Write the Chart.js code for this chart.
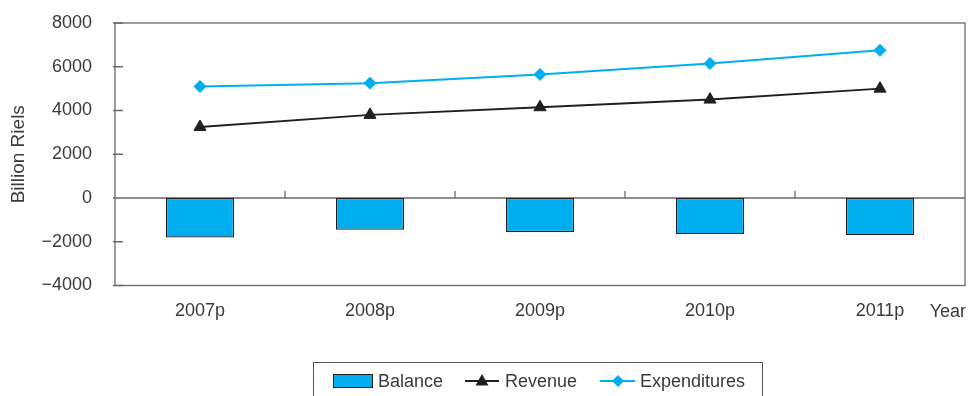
<!DOCTYPE html>
<html>
<head>
<meta charset="utf-8">
<script src="https://cdn.jsdelivr.net/npm/chart.js@4/dist/chart.umd.min.js"></script>
<style>
  html, body { margin: 0; padding: 0; background: #fff; }
  #wrap { width: 968px; height: 396px; position: relative; }
  canvas { display: block; }
</style>
</head>
<body>
<div id="wrap"><canvas id="c" width="968" height="396"></canvas></div>
<script>
// Budget outlook, billion riels
const years = ['2007p', '2008p', '2009p', '2010p', '2011p'];
const balance = [-1800, -1450, -1550, -1650, -1700];
const revenue = [3250, 3800, 4150, 4500, 5000];
const expenditures = [5100, 5250, 5650, 6150, 6750];
const yTicks = [8000, 6000, 4000, 2000, 0, -2000, -4000];

const CYAN = '#00aeef';
const DARK = '#231f20';
const FRAME = '#6a6a6a';
const TEXT = '#3a3a3a';
const SANS = '"Liberation Sans", Arial, sans-serif';

const fmt = v => (v < 0 ? '\u2212' + Math.abs(v) : String(v));

// frame, zero line, inward ticks, "Year" label and boxed legend
const decor = {
  id: 'decor',
  beforeDatasetsDraw(chart) {
    const { ctx, chartArea: a, scales: { x, y } } = chart;
    ctx.save();
    ctx.strokeStyle = FRAME;
    ctx.lineWidth = 1.3;
    ctx.strokeRect(a.left, a.top, a.right - a.left, a.bottom - a.top);
    const y0 = y.getPixelForValue(0);
    ctx.beginPath();
    ctx.moveTo(a.left, y0);
    ctx.lineTo(a.right, y0);
    yTicks.forEach(v => {
      const py = y.getPixelForValue(v);
      ctx.moveTo(a.left - 2, py);
      ctx.lineTo(a.left + 8, py);
    });
    for (let i = 0; i < years.length - 1; i++) {
      const px = (x.getPixelForValue(i) + x.getPixelForValue(i + 1)) / 2;
      ctx.moveTo(px, y0);
      ctx.lineTo(px, y0 - 7);
    }
    ctx.stroke();
    ctx.restore();
  },
  afterDraw(chart) {
    const { ctx, chartArea: a } = chart;
    ctx.save();
    // axis unit label
    ctx.font = '18px ' + SANS;
    ctx.fillStyle = TEXT;
    ctx.textAlign = 'right';
    ctx.textBaseline = 'middle';
    ctx.fillText('Year', a.right + 1, 312);

    // legend box
    ctx.strokeStyle = '#555';
    ctx.lineWidth = 1;
    ctx.strokeRect(313.5, 362.5, 449, 40);

    const ds = chart.data.datasets;
    const cy = 381;
    ctx.textAlign = 'left';

    // Balance swatch
    ctx.fillStyle = ds[0].backgroundColor;
    ctx.fillRect(333, cy - 7, 40, 14);
    ctx.strokeStyle = ds[0].borderColor;
    ctx.strokeRect(333.5, cy - 6.5, 39, 13);
    ctx.fillStyle = TEXT;
    ctx.fillText(ds[0].label, 378, cy + 1);

    // Revenue line + triangle
    ctx.strokeStyle = ds[1].borderColor;
    ctx.lineWidth = 2;
    ctx.beginPath();
    ctx.moveTo(465, cy); ctx.lineTo(499, cy); ctx.stroke();
    ctx.fillStyle = ds[1].borderColor;
    ctx.beginPath();
    ctx.moveTo(482, cy - 7); ctx.lineTo(488.5, cy + 4.5); ctx.lineTo(475.5, cy + 4.5);
    ctx.closePath(); ctx.fill();
    ctx.fillStyle = TEXT;
    ctx.fillText(ds[1].label, 505, cy + 1);

    // Expenditures line + diamond
    ctx.strokeStyle = ds[2].borderColor;
    ctx.beginPath();
    ctx.moveTo(600, cy); ctx.lineTo(635, cy); ctx.stroke();
    ctx.fillStyle = ds[2].borderColor;
    ctx.beginPath();
    ctx.moveTo(618, cy - 6); ctx.lineTo(624, cy); ctx.lineTo(618, cy + 6); ctx.lineTo(612, cy);
    ctx.closePath(); ctx.fill();
    ctx.fillStyle = TEXT;
    ctx.fillText(ds[2].label, 640, cy + 1);
    ctx.restore();
  }
};

new Chart(document.getElementById('c'), {
  type: 'bar',
  data: {
    labels: years,
    datasets: [
      {
        type: 'bar',
        label: 'Balance',
        data: balance,
        backgroundColor: CYAN,
        borderColor: DARK,
        borderWidth: 1.2,
        borderSkipped: false,
        barPercentage: 0.4,
        categoryPercentage: 1,
        order: 3
      },
      {
        type: 'line',
        label: 'Revenue',
        data: revenue,
        borderColor: DARK,
        backgroundColor: DARK,
        borderWidth: 2,
        pointStyle: 'triangle',
        pointRadius: 7,
        pointBorderWidth: 1,
        tension: 0,
        order: 2
      },
      {
        type: 'line',
        label: 'Expenditures',
        data: expenditures,
        borderColor: CYAN,
        backgroundColor: CYAN,
        borderWidth: 2,
        pointStyle: 'rectRot',
        pointRadius: 6,
        pointBorderWidth: 1,
        tension: 0,
        order: 1
      }
    ]
  },
  options: {
    responsive: false,
    animation: false,
    devicePixelRatio: 1,
    layout: { autoPadding: false, padding: { top: 23, right: 3, left: 0, bottom: 0 } },
    plugins: { legend: { display: false }, tooltip: { enabled: false } },
    scales: {
      x: {
        offset: true,
        grid: { display: false, drawTicks: false },
        border: { display: false },
        ticks: { font: { family: SANS, size: 18 }, color: TEXT, padding: 15, maxRotation: 0 },
        afterFit: s => { s.height = 110.5; s.paddingLeft = 0; s.paddingRight = 0; }
      },
      y: {
        min: -4000,
        max: 8000,
        afterBuildTicks: s => { s.ticks = yTicks.map(v => ({ value: v })); },
        grid: { display: false, drawTicks: false },
        border: { display: false },
        ticks: { font: { family: SANS, size: 18 }, color: TEXT, padding: 23, callback: fmt },
        title: {
          display: true,
          text: 'Billion Riels',
          font: { family: SANS, size: 19 },
          color: TEXT,
          padding: { top: 7, bottom: 0 }
        },
        afterFit: s => { s.width = 115; s.paddingTop = 0; s.paddingBottom = 0; }
      }
    }
  },
  plugins: [decor]
});
</script>
</body>
</html>
